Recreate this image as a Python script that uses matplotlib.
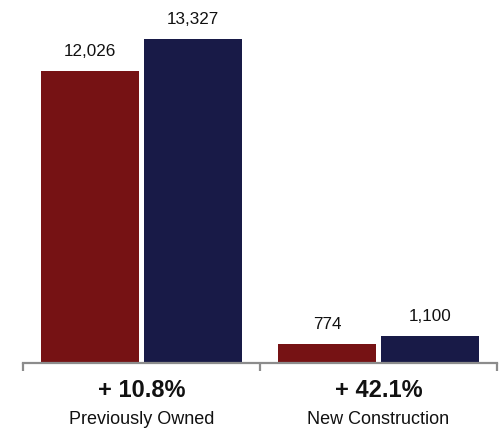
import matplotlib
matplotlib.use("Agg")
import matplotlib.pyplot as plt
import numpy as np

plt.rcParams['font.family'] = ['Liberation Sans', 'DejaVu Sans']

categories = ["Previously Owned", "New Construction"]
changes = ["+ 10.8%", "+ 42.1%"]
series_prev = [12026, 774]
series_curr = [13327, 1100]
color_prev = "#761214"
color_curr = "#181A47"

fig = plt.figure(figsize=(5.03, 4.32), dpi=100)
ax = fig.add_axes([23/503, 69/432, 474/503, 363/432])

x = np.arange(len(categories))
w = 0.41
off = 0.217
b1 = ax.bar(x - off, series_prev, w, color=color_prev)
b2 = ax.bar(x + off, series_curr, w, color=color_curr)

for bars, vals in ((b1, series_prev), (b2, series_curr)):
    for r, v in zip(bars, vals):
        ax.annotate(f"{v:,}", (r.get_x() + r.get_width()/2, v),
                    xytext=(0, 8.5), textcoords="offset points",
                    ha="center", va="bottom", fontsize=12.3, color="#111111")

ax.set_xlim(-0.5, 1.5)
ax.set_ylim(0, 14930)
for s in ("top", "right", "left"):
    ax.spines[s].set_visible(False)
ax.spines["bottom"].set_color("#8c8c8c")
ax.spines["bottom"].set_linewidth(1.6)
ax.set_yticks([])
ax.set_xticks([-0.5, 0.5, 1.5])
ax.set_xticklabels([])
ax.tick_params(axis="x", direction="out", length=6, width=1.6, color="#8c8c8c")

for xi, (chg, cat) in enumerate(zip(changes, categories)):
    ax.annotate(chg, (xi, 0), xycoords=("data", "axes fraction"),
                xytext=(0, -20), textcoords="offset points",
                ha="center", va="center", fontsize=17, fontweight="bold", color="#111111")
    ax.annotate(cat, (xi, 0), xycoords=("data", "axes fraction"),
                xytext=(0, -41), textcoords="offset points",
                ha="center", va="center", fontsize=13, color="#111111")

fig.savefig("out.png", dpi=100)
